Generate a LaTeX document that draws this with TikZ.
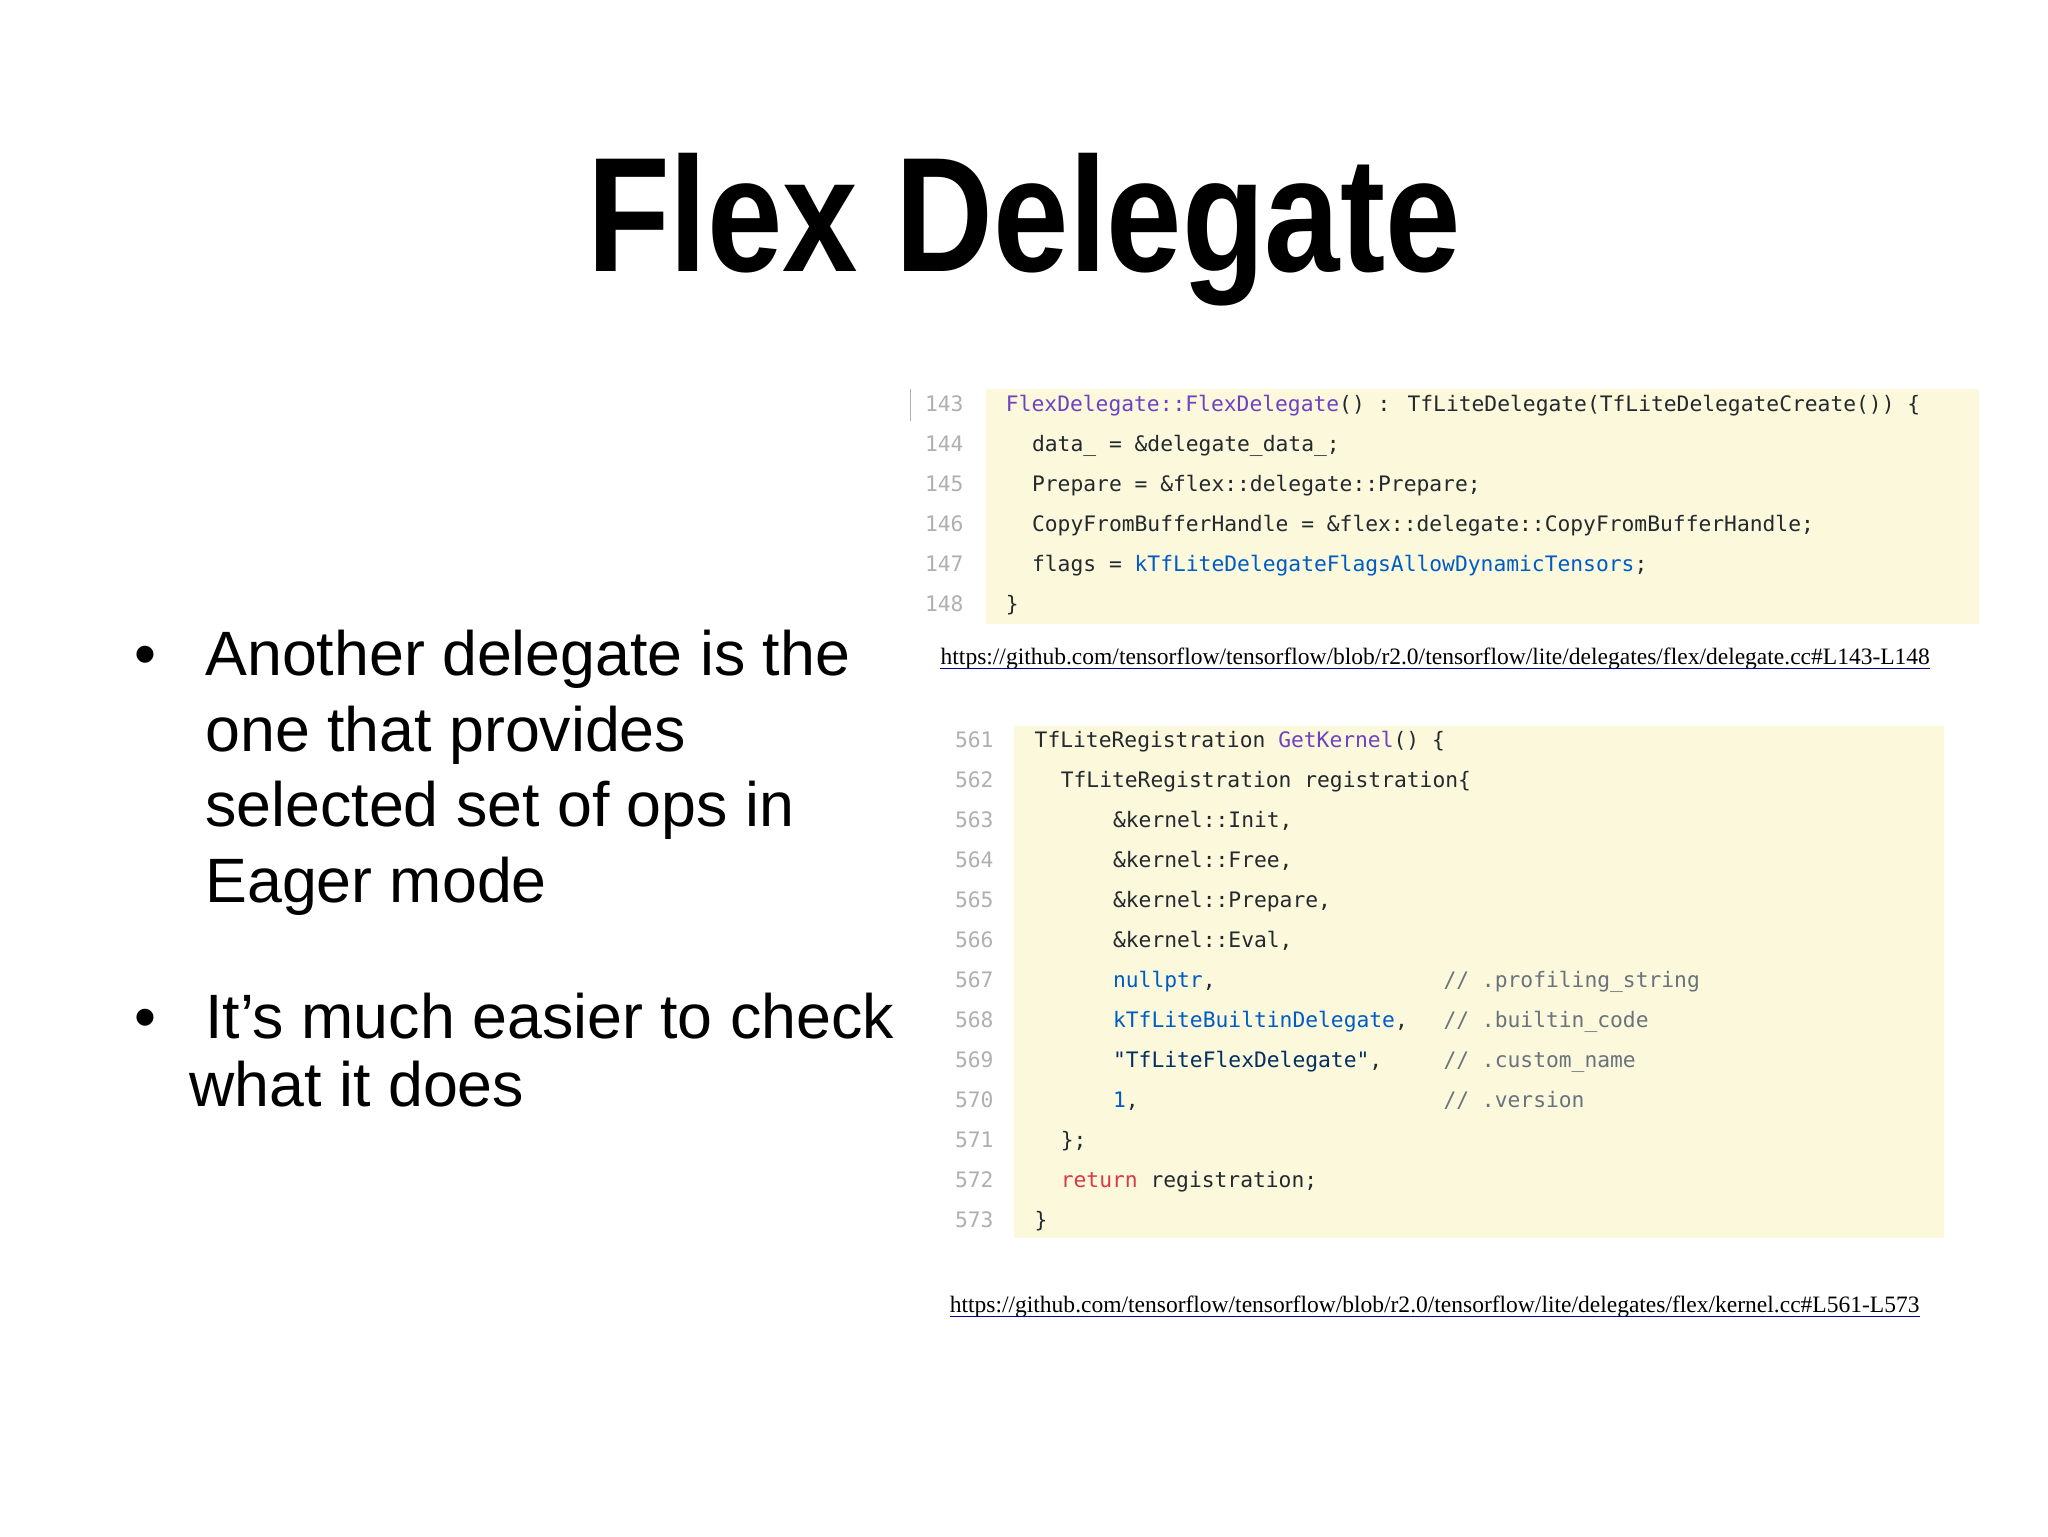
\documentclass[tikz,border=0pt]{standalone}
\usepackage{fontspec}
\setmainfont{Liberation Sans}
\newfontfamily\codef{DejaVu Sans Mono}
\newfontfamily\urlf{Liberation Serif}
\definecolor{bgy}{HTML}{FBF8DC}
\definecolor{lno}{HTML}{B0B0B0}
\definecolor{cpur}{HTML}{6F42C1}
\definecolor{cblu}{HTML}{005CC5}
\definecolor{cred}{HTML}{D73A49}
\definecolor{cstr}{HTML}{032F62}
\definecolor{ccom}{HTML}{6A737D}
\definecolor{ctxt}{HTML}{24292E}
\tikzset{
 code/.style={anchor=base west,inner sep=0,font=\codef\fontsize{16.3}{18}\selectfont,text=ctxt},
 lnum/.style={code,text=lno},
 bul/.style={anchor=base west,inner sep=0,font=\fontsize{48}{58}\selectfont},
 urlt/.style={anchor=base west,inner sep=0,font=\urlf\fontsize{18}{20}\selectfont}
}
\begin{document}
\begin{tikzpicture}[x=1pt,y=-1pt]
\useasboundingbox[fill=white] (0,0) rectangle (1568,1176);
\node[anchor=base,inner sep=0,font=\bfseries\fontsize{125}{130}\selectfont] (title) at (784,208) {\scalebox{0.83}[1]{Flex Delegate}};
% bullets
\node[bul] (b1) at (103,517) {•};
\node[bul] (t1) at (157,517) {Another delegate is the};
\node[bul] (t2) at (157,575) {one that provides};
\node[bul] (t3) at (157,633) {selected set of ops in};
\node[bul] (t4) at (157,691) {Eager mode};
\node[bul] (b2) at (103,795) {•};
\node[bul] (t5) at (157,795) {It’s much easier to check};
\node[bul] (t6) at (145,847) {what it does};
% code box 1
\fill[bgy] (755,298) rectangle (1515,478);
\draw[lno,line width=0.8pt] (697,298) -- (697,322);
\foreach \n [count=\i from 0] in {143,...,148} \node[lnum] at (708,315+30.6*\i) {\n};
\node[code] (c1) at (770,315) {\textcolor{cpur}{FlexDelegate::FlexDelegate}() : TfLiteDelegate(TfLiteDelegateCreate()) \{};
\node[code] (c2) at (790,345.6) {data\_ = \&delegate\_data\_;};
\node[code] (c3) at (790,376.2) {Prepare = \&flex::delegate::Prepare;};
\node[code] (c4) at (790,406.8) {CopyFromBufferHandle = \&flex::delegate::CopyFromBufferHandle;};
\node[code] (c5) at (790,437.4) {flags = \textcolor{cblu}{kTfLiteDelegateFlagsAllowDynamicTensors};};
\node[code] (c6) at (770,468) {\}};
\node[urlt] (u1) at (720,509) {https://github.com/tensorflow/tensorflow/blob/r2.0/tensorflow/lite/delegates/flex/delegate.cc\#L143-L148};
\draw[blue!60!black,line width=0.8pt] ([yshift=-3pt]u1.base west) -- ([yshift=-3pt]u1.base east);
% code box 2
\fill[bgy] (776,556) rectangle (1488,948);
\foreach \n [count=\i from 0] in {561,...,573} \node[lnum] at (731,572+30.67*\i) {\n};
\def\yy#1{572+30.67*#1}
\node[code] (d0) at (792,{\yy{0}}) {TfLiteRegistration \textcolor{cpur}{GetKernel}() \{};
\node[code] (d1) at (812,{\yy{1}}) {TfLiteRegistration registration\{};
\node[code] (d2) at (852,{\yy{2}}) {\&kernel::Init,};
\node[code] (d3) at (852,{\yy{3}}) {\&kernel::Free,};
\node[code] (d4) at (852,{\yy{4}}) {\&kernel::Prepare,};
\node[code] (d5) at (852,{\yy{5}}) {\&kernel::Eval,};
\node[code] (d6) at (852,{\yy{6}}) {\textcolor{cblu}{nullptr},};
\node[code] (d7) at (852,{\yy{7}}) {\textcolor{cblu}{kTfLiteBuiltinDelegate},};
\node[code] (d8) at (852,{\yy{8}}) {\textcolor{cstr}{"TfLiteFlexDelegate"},};
\node[code] (d9) at (852,{\yy{9}}) {\textcolor{cblu}{1},};
\node[code,text=ccom] (m6) at (1105,{\yy{6}}) {// .profiling\_string};
\node[code,text=ccom] (m7) at (1105,{\yy{7}}) {// .builtin\_code};
\node[code,text=ccom] (m8) at (1105,{\yy{8}}) {// .custom\_name};
\node[code,text=ccom] (m9) at (1105,{\yy{9}}) {// .version};
\node[code] (d10) at (812,{\yy{10}}) {\};};
\node[code] (d11) at (812,{\yy{11}}) {\textcolor{cred}{return} registration;};
\node[code] (d12) at (792,{\yy{12}}) {\}};
\node[urlt] (u2) at (727,1005) {https://github.com/tensorflow/tensorflow/blob/r2.0/tensorflow/lite/delegates/flex/kernel.cc\#L561-L573};
\draw[blue!60!black,line width=0.8pt] ([yshift=-3pt]u2.base west) -- ([yshift=-3pt]u2.base east);
\end{tikzpicture}
\end{document}
